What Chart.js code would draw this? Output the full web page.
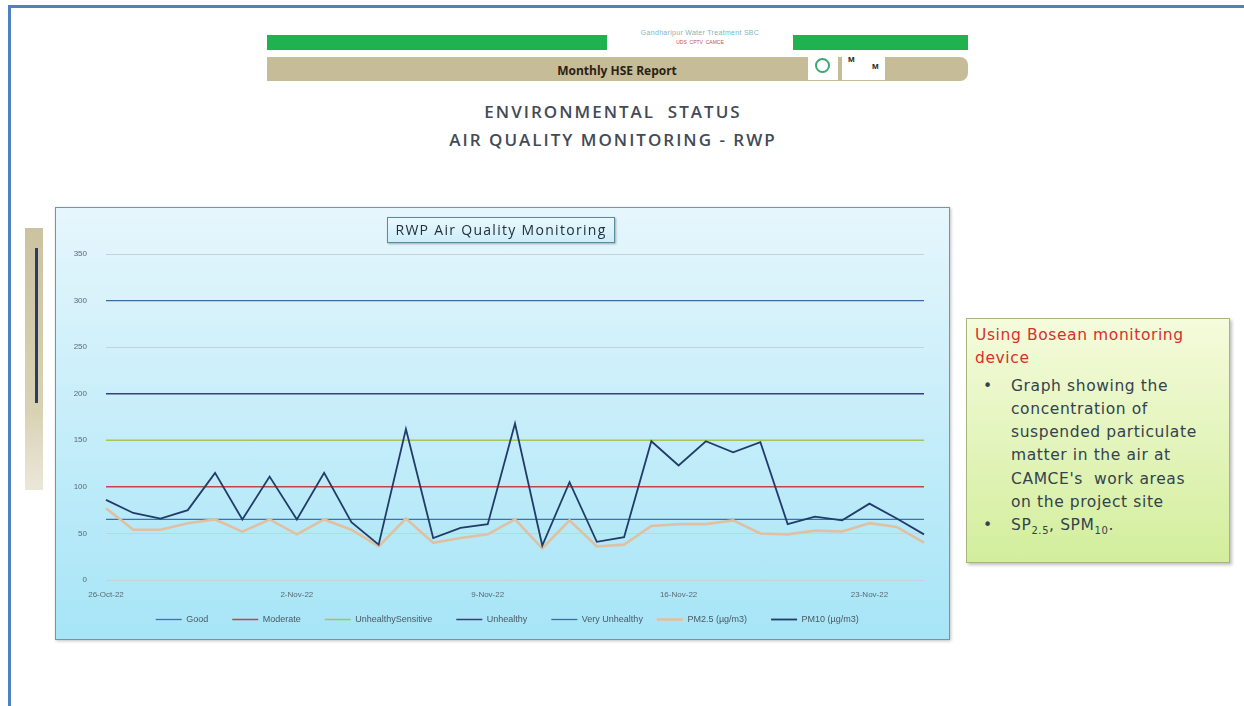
<!DOCTYPE html>
<html>
<head>
<meta charset="utf-8">
<script src="https://cdn.jsdelivr.net/npm/chart.js@4.4.0/dist/chart.umd.min.js"></script>
<style>
  body { margin: 0; width: 1244px; height: 706px; background: #fff; position: relative; overflow: hidden; font-family: "Liberation Sans", Arial, sans-serif; }
  .frameTop { position: absolute; left: 8px; top: 5px; width: 1236px; height: 3px; background: #4f81bd; }
  .frameLeft { position: absolute; left: 8px; top: 5px; width: 3px; height: 701px; background: #4f81bd; }
  .green { position: absolute; top: 35px; height: 15px; background: #1fb24f; }
  .brand { position: absolute; left: 607px; top: 24px; width: 186px; height: 32px; background: #fff; text-align: center; }
  .brand .l1 { font-size: 7px; color: #7fb6bc; margin-top: 5px; letter-spacing: 0.3px; }
  .brand .l2 { font-size: 5px; color: #c0505a; margin-top: 3px; }
  .tan { position: absolute; left: 267px; top: 57px; width: 701px; height: 24px; background: #c6bc98; border-radius: 0 8px 8px 0; }
  .tan .t { position: absolute; left: 0; width: 700px; top: 5px; text-align: center; font-weight: bold; font-size: 12px; color: #2b2212; font-family: "Open Sans", sans-serif; }
  .logo { position: absolute; top: 52px; height: 28px; background: #fff; }
  .drop { position: absolute; left: 7px; top: 6px; width: 15px; height: 15px; border: 2px solid #3aa870; border-radius: 50%; box-sizing: border-box; }
  .mm { position: absolute; font-size: 8px; font-weight: bold; color: #222; }
  .heading { position: absolute; left: 0; width: 1226px; text-align: center; font-family: "Open Sans", sans-serif; font-size: 17px; font-weight: 600; color: #434a56; letter-spacing: 2px; }
  .sidebar { position: absolute; left: 25px; top: 228px; width: 18px; height: 262px; background: linear-gradient(#cbc3a0, #d8d2b4 70%, #ebe8da); }
  .sideline { position: absolute; left: 35px; top: 248px; width: 3px; height: 155px; background: #2e3a68; }
  .panel { position: absolute; left: 55px; top: 207px; width: 893px; height: 431px; border: 1px solid #7296a6; background: linear-gradient(#e6f6fc, #a6e5f7); box-shadow: 1px 1px 3px rgba(0,0,0,0.25); }
  .ctitle { position: absolute; left: 387px; top: 217px; width: 226px; height: 24px; border: 1px solid #5b8c9c; background: linear-gradient(#eaf8fd, #cdeefa); box-shadow: 1px 1px 2px rgba(0,0,0,0.3); text-align: center; font-size: 14px; letter-spacing: 1.3px; line-height: 24px; color: #23303a; font-family: "Open Sans", sans-serif; }
  .note { position: absolute; left: 966px; top: 318px; width: 262px; height: 243px; border: 1px solid #a9b47c; background: linear-gradient(#f5fbdc, #d2ee9c); box-shadow: 2px 2px 3px rgba(0,0,0,0.25); font-family: "DejaVu Sans", sans-serif; font-size: 15.5px; letter-spacing: 0.6px; line-height: 23.3px; color: #34424e; white-space: nowrap; }
  .note .red { color: #d9302c; padding: 5px 0 0 8px; }
  .note ul { margin: 4px 0 0 0; padding: 0; list-style: none; }
  .note li { position: relative; padding-left: 44px; }
  .note li::before { content: "\2022"; position: absolute; left: 16px; }
  .note sub { font-size: 10px; }
</style>
</head>
<body>
<div class="frameTop"></div>
<div class="frameLeft"></div>

<div class="green" style="left:267px;width:340px"></div>
<div class="green" style="left:793px;width:175px"></div>
<div class="tan"><div class="t">Monthly HSE Report</div></div>
<div class="brand"><div class="l1">Gandharipur Water Treatment SBC</div><div class="l2">UDS &nbsp;CPTV &nbsp;CAMCE</div></div>
<div class="logo" style="left:808px;width:30px"><div class="drop"></div></div>
<div class="logo" style="left:842px;width:43px"><span class="mm" style="left:6px;top:3px">M</span><span class="mm" style="left:30px;top:10px">M</span></div>

<div class="heading" style="top:100px">ENVIRONMENTAL&nbsp; STATUS</div>
<div class="heading" style="top:128px">AIR QUALITY MONITORING - RWP</div>

<div class="sidebar"></div>
<div class="sideline"></div>

<div class="panel"><canvas id="c" width="893" height="431"></canvas></div>
<div class="ctitle">RWP Air Quality Monitoring</div>

<div class="note">
  <div class="red">Using Bosean monitoring<br>device</div>
  <ul>
    <li>Graph showing the<br>concentration of<br>suspended particulate<br>matter in the air at<br>CAMCE's &nbsp;work areas<br>on the project site</li>
    <li>SP<sub>2.5</sub>, SPM<sub>10</sub>.</li>
  </ul>
</div>

<script>
const days = [
  "26-Oct-22", "27-Oct-22", "28-Oct-22", "29-Oct-22", "30-Oct-22", "31-Oct-22",
  "1-Nov-22", "2-Nov-22", "3-Nov-22", "4-Nov-22", "5-Nov-22", "6-Nov-22",
  "7-Nov-22", "8-Nov-22", "9-Nov-22", "10-Nov-22", "11-Nov-22", "12-Nov-22",
  "13-Nov-22", "14-Nov-22", "15-Nov-22", "16-Nov-22", "17-Nov-22", "18-Nov-22",
  "19-Nov-22", "20-Nov-22", "21-Nov-22", "22-Nov-22", "23-Nov-22", "24-Nov-22",
  "25-Nov-22"
];
const pm10 = [86, 72, 66, 75, 115, 65, 111, 65, 115, 62, 38, 162, 45, 56, 60, 168, 37, 105, 41, 46, 149, 123, 149, 137, 148, 60, 68, 64, 82, 66, 49];
const pm25 = [77, 54, 54, 61, 65, 52, 65, 49, 65, 54, 36, 66, 40, 45, 49, 65, 34, 64, 36, 38, 58, 60, 60, 64, 50, 49, 53, 52, 61, 57, 40];

// AQI limits drawn as flat lines
const good = days.map(() => 65);
const moderate = days.map(() => 100);
const sensitive = days.map(() => 150);
const unhealthy = days.map(() => 200);
const veryUnhealthy = days.map(() => 300);

const tickEvery = 7;

function line(label, data, color, width, order) {
  return {
    label: label,
    data: data,
    borderColor: color,
    backgroundColor: color,
    borderWidth: width,
    pointRadius: 0,
    pointStyle: "line",
    tension: 0,
    order: order,
  };
}

const legendGap = "\u00a0\u00a0\u00a0\u00a0";

new Chart(document.getElementById("c"), {
  type: "line",
  data: {
    labels: days,
    datasets: [
      line("Good", good, "#3f72a8", 1.3, 0),
      line("Moderate", moderate, "#c8404e", 1.5, 0),
      line("UnhealthySensitive", sensitive, "#a9c25a", 1.5, 0),
      line("Unhealthy", unhealthy, "#383e78", 1.5, 0),
      line("Very Unhealthy", veryUnhealthy, "#3b6c9c", 1.3, 0),
      line("PM2.5 (µg/m3)", pm25, "#e0c0a2", 2.6, -1),
      line("PM10 (µg/m3)", pm10, "#223c6a", 1.8, -2),
    ],
  },
  options: {
    responsive: false,
    animation: false,
    devicePixelRatio: 1,
    layout: { padding: { left: 0, right: 25, top: 46, bottom: 5 } },
    scales: {
      x: {
        offset: false,
        grid: { display: false, drawTicks: false },
        border: { display: false },
        ticks: {
          autoSkip: false,
          maxRotation: 0,
          padding: 10,
          color: "#5a6a74",
          font: { size: 8, family: "Liberation Sans" },
          callback: function (v, i) {
            return i % tickEvery === 0 ? days[i] : "";
          },
        },
        afterFit: function (s) { s.height = 21; },
      },
      y: {
        min: 0,
        max: 350,
        grid: { color: "#c4d2da", drawTicks: false },
        border: { display: false },
        ticks: {
          stepSize: 50,
          padding: 19,
          color: "#5a6a74",
          font: { size: 8, family: "Liberation Sans" },
        },
        afterFit: function (s) { s.width = 50; },
      },
    },
    plugins: {
      tooltip: { enabled: false },
      legend: {
        position: "bottom",
        labels: {
          usePointStyle: true,
          pointStyle: "line",
          pointStyleWidth: 26,
          padding: 14,
          color: "#4a5a64",
          font: { size: 9, family: "Liberation Sans" },
          sort: function (a, b) { return a.datasetIndex - b.datasetIndex; },
          generateLabels: function (chart) {
            const items = Chart.defaults.plugins.legend.labels.generateLabels(chart);
            items.forEach(function (it, i) {
              if (i < items.length - 1) it.text = it.text + legendGap;
            });
            // blank spacer so the row sits a bit right of centre, as in the original
            items.unshift({
              text: "", datasetIndex: -1, hidden: false, lineWidth: 0,
              fillStyle: "rgba(0,0,0,0)", strokeStyle: "rgba(0,0,0,0)", pointStyle: "line",
            });
            return items;
          },
        },
      },
    },
  },
});
</script>
</body>
</html>
